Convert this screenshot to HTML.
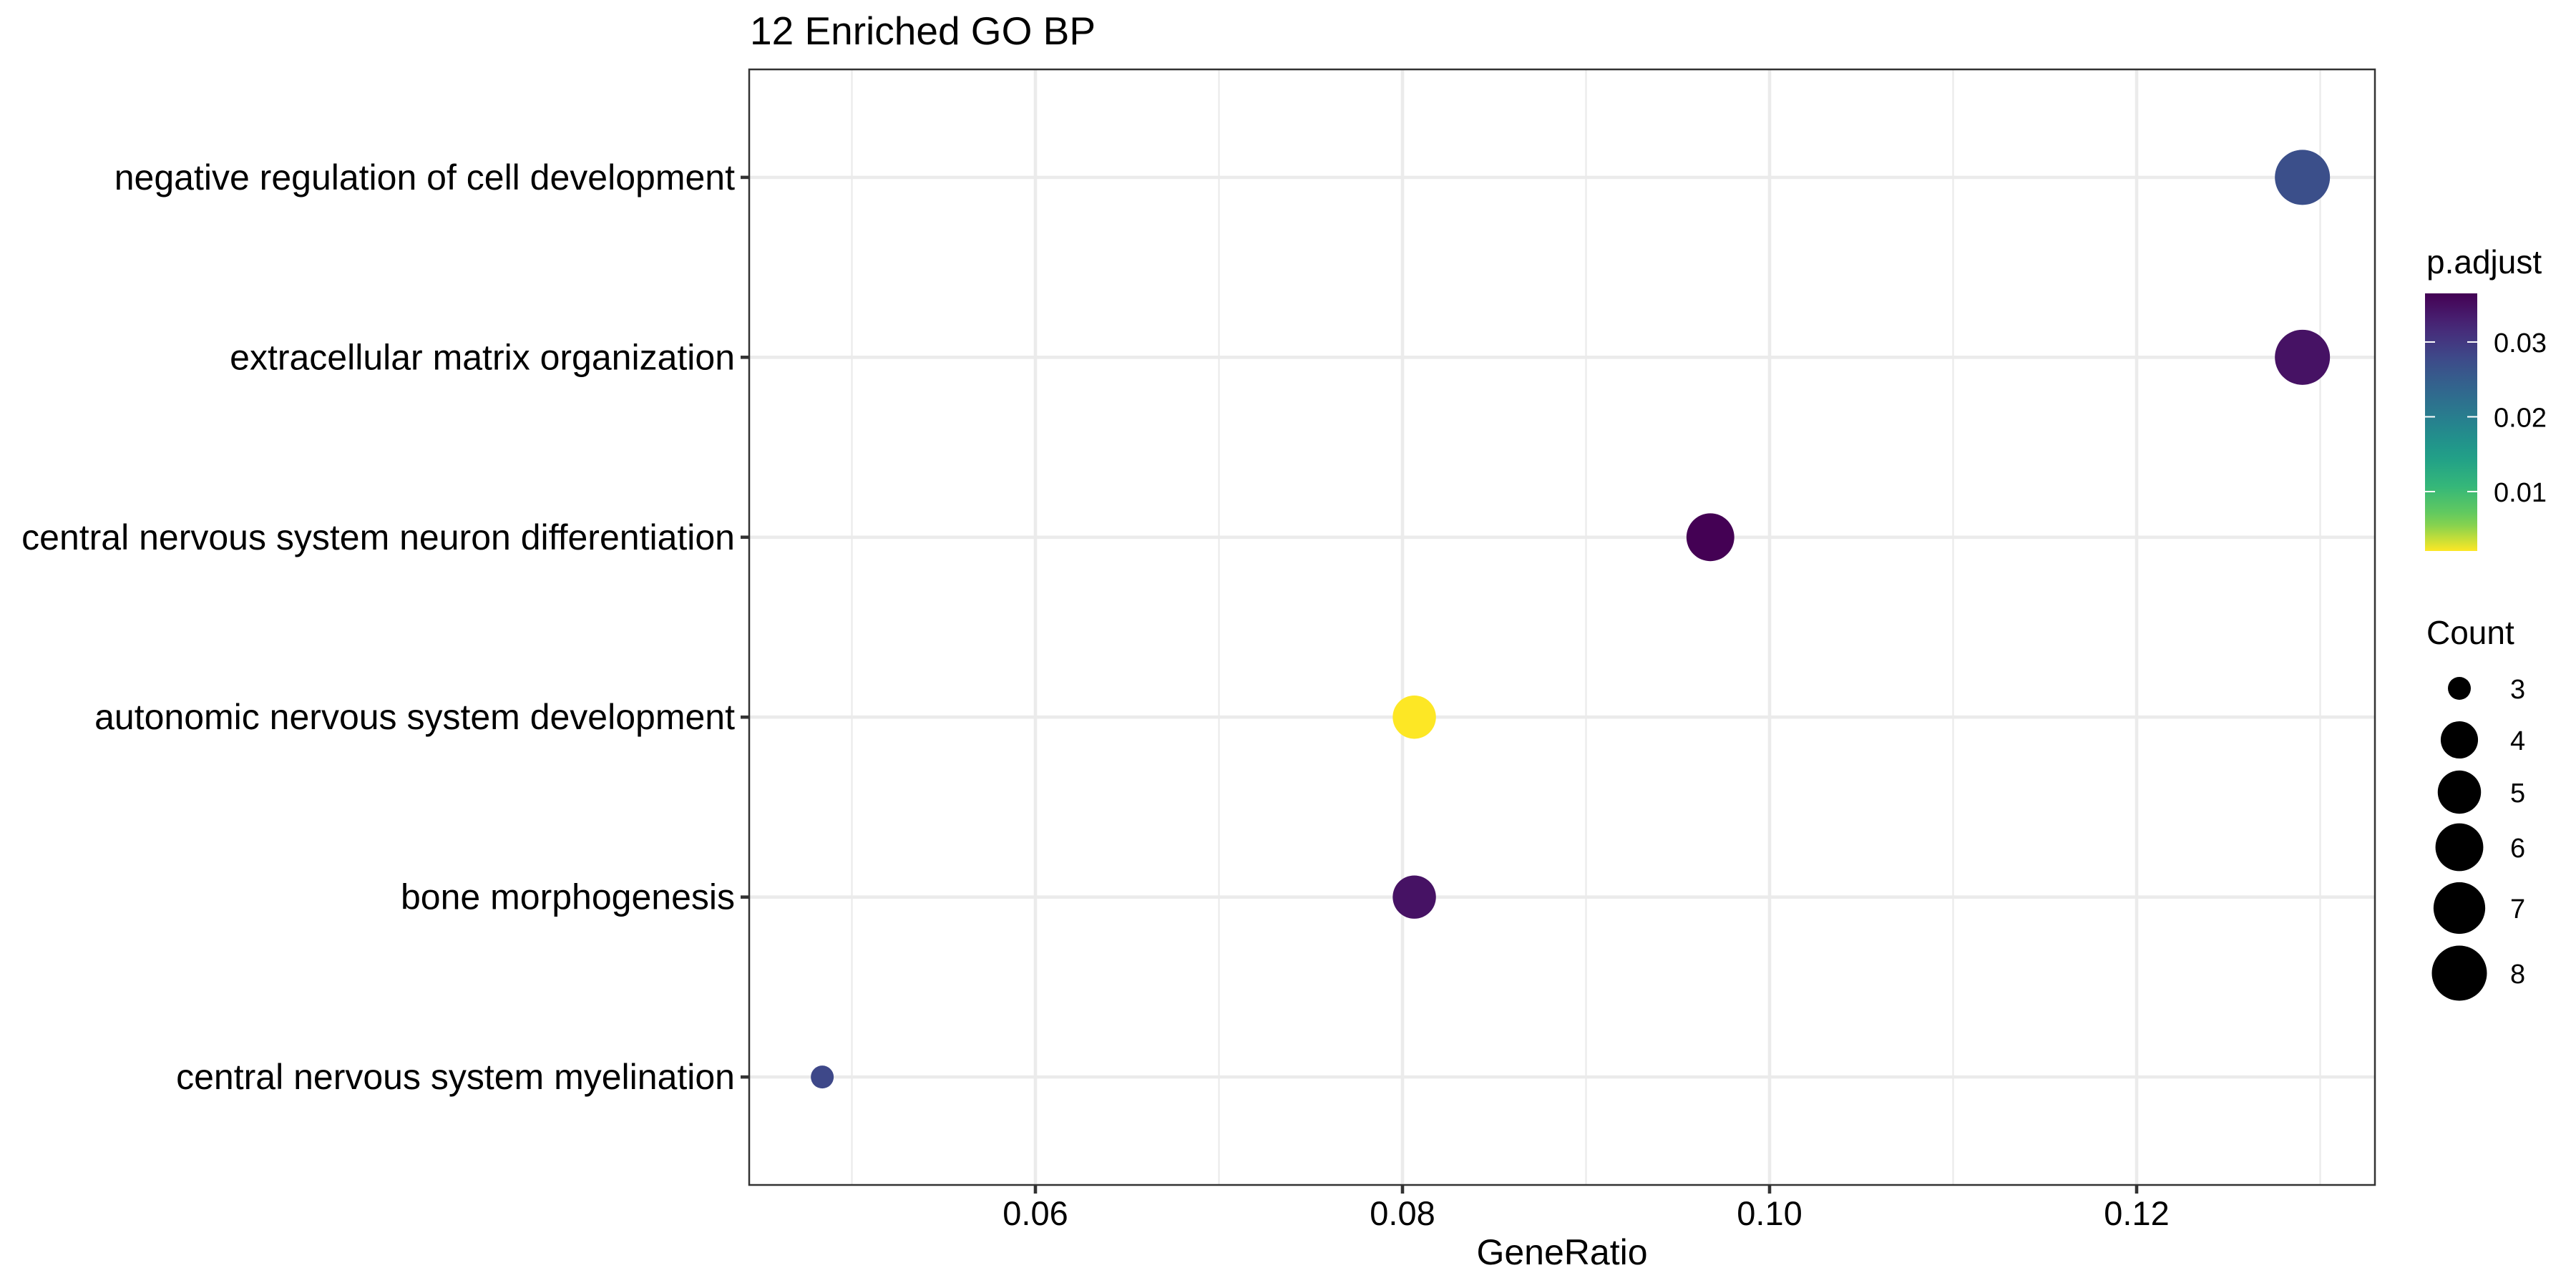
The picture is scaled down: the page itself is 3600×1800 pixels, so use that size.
<!DOCTYPE html>
<html><head><meta charset="utf-8"><style>
html,body{margin:0;padding:0;background:#fff;}
svg{display:block;font-family:"Liberation Sans",sans-serif;}
</style></head><body>
<svg id="chart" width="3600" height="1800" viewBox="0 0 3600 1800" xmlns="http://www.w3.org/2000/svg">
<rect x="0" y="0" width="3600" height="1800" fill="#fff"/>
<text x="1048" y="62" font-size="55" fill="#000">12 Enriched GO BP</text>
<g id="grid"></g><g id="points"></g><g id="axes"></g><g id="legend"></g>
</svg>
<script>
const categories = ["negative regulation of cell development","extracellular matrix organization","central nervous system neuron differentiation","autonomic nervous system development","bone morphogenesis","central nervous system myelination"];
const geneRatio = [8/62, 8/62, 6/62, 5/62, 5/62, 3/62];
const counts = [8, 8, 6, 5, 5, 3];
const pAdjust = [0.027, 0.0345, 0.0365, 0.00206, 0.0345, 0.028];
const xTicks = [0.06, 0.08, 0.10, 0.12];
const xTickLabels = ["0.06","0.08","0.10","0.12"];
const xMinor = [0.05, 0.07, 0.09, 0.11, 0.13];
const colorTicks = [0.01, 0.02, 0.03];
const colorTickLabels = ["0.01","0.02","0.03"];
const sizeLevels = [3,4,5,6,7,8];

const NS="http://www.w3.org/2000/svg";
const L=1047,R=3319,T=97,B=1656;
const pMin=0.00206,pMax=0.0365;
function sx(v){return 1447+(v-0.06)*25650;}
function sy(i){const step=(B-T)/(categories.length-1+1.2);return T+0.6*step+i*step;}
function rSize(c){return 16+ (38.5-16)*Math.sqrt((c-3)/(8-3));}
const vir=[[0,"#440154"],[0.13,"#482878"],[0.25,"#3e4989"],[0.38,"#31688e"],[0.5,"#26828e"],[0.63,"#1f9e89"],[0.75,"#35b779"],[0.88,"#6ece58"],[1,"#fde725"]];
function hex2(h){return [1,3,5].map(i=>parseInt(h.substr(i,2),16));}
function viridis(t){for(let i=1;i<vir.length;i++){if(t<=vir[i][0]){const a=vir[i-1],b=vir[i];const f=(t-a[0])/(b[0]-a[0]);const ca=hex2(a[1]),cb=hex2(b[1]);return "rgb("+ca.map((c,k)=>Math.round(c+(cb[k]-c)*f)).join(",")+")";}}return vir[vir.length-1][1];}
function pColor(p){return viridis((pMax-p)/(pMax-pMin));}
function mk(tag,attrs,parent){const e=document.createElementNS(NS,tag);for(const k in attrs)e.setAttribute(k,attrs[k]);parent.appendChild(e);return e;}

const grid=document.getElementById('grid');
mk('rect',{x:L,y:T,width:R-L,height:B-T,fill:'#fff'},grid);
xMinor.forEach(v=>{const x=sx(v);if(x>L&&x<R){const l=mk('line',{x1:x,x2:x,y1:T,y2:B,stroke:'#ebebeb','stroke-width':2.3},grid);

}});
xTicks.forEach(v=>{const x=sx(v);const l=mk('line',{x1:x,x2:x,y1:T,y2:B,stroke:'#ebebeb','stroke-width':4.6},grid);

});
categories.forEach((c,i)=>{const y=sy(i);const l=mk('line',{x1:L,x2:R,y1:y,y2:y,stroke:'#ebebeb','stroke-width':4.6},grid);

});

const pts=document.getElementById('points');
categories.forEach((c,i)=>{const p=mk('circle',{cx:sx(geneRatio[i]),cy:sy(i),r:rSize(counts[i]),fill:pColor(pAdjust[i])},pts);

});

const ax=document.getElementById('axes');
const border=mk('rect',{x:L,y:T,width:R-L,height:B-T,fill:'none',stroke:'#333','stroke-width':2.5},ax);


categories.forEach((c,i)=>{const y=sy(i);mk('line',{x1:L-12,x2:L,y1:y,y2:y,stroke:'#333','stroke-width':4.6},ax);
const t=mk('text',{x:L-20,y:y+17,'text-anchor':'end','font-size':50,fill:'#000'},ax);t.textContent=c;

});
xTicks.forEach((v,i)=>{const x=sx(v);mk('line',{x1:x,x2:x,y1:B,y2:B+12,stroke:'#333','stroke-width':4.6},ax);
const t=mk('text',{x:x,y:1712,'text-anchor':'middle','font-size':47,fill:'#000'},ax);t.textContent=xTickLabels[i];

});
const xt=mk('text',{x:(L+R)/2,y:1767,'text-anchor':'middle','font-size':50,fill:'#000'},ax);xt.textContent="GeneRatio";



const lg=document.getElementById('legend');
const lt=mk('text',{x:3391,y:382,'font-size':46,fill:'#000'},lg);lt.textContent="p.adjust";


const defs=mk('defs',{},lg);const gr=mk('linearGradient',{id:'cb',x1:0,y1:1,x2:0,y2:0},defs);
for(let k=0;k<=20;k++){mk('stop',{offset:(k/20),'stop-color':viridis(1-k/20)},gr);}
const cbT=410,cbB=770,cbL=3389,cbR=3462;
const cb=mk('rect',{x:cbL,y:cbT,width:cbR-cbL,height:cbB-cbT,fill:'url(#cb)'},lg);


function cy(p){return cbB-(p-pMin)/(pMax-pMin)*(cbB-cbT);}
colorTicks.forEach((v,i)=>{const y=cy(v);mk('line',{x1:cbL,x2:cbL+14,y1:y,y2:y,stroke:'#fff','stroke-width':2},lg);mk('line',{x1:cbR-14,x2:cbR,y1:y,y2:y,stroke:'#fff','stroke-width':2},lg);
const t=mk('text',{x:3485,y:y+14,'font-size':38,fill:'#000'},lg);t.textContent=colorTickLabels[i];

});
const ct=mk('text',{x:3391,y:900,'font-size':46,fill:'#000'},lg);ct.textContent="Count";


const sizeY=[962,1034,1107,1184,1269,1360];
sizeLevels.forEach((c,i)=>{const k=mk('circle',{cx:3437,cy:sizeY[i],r:rSize(c),fill:'#000'},lg);


const t=mk('text',{x:3508,y:sizeY[i]+14,'font-size':38,fill:'#000'},lg);t.textContent=String(c);

});
</script>
</body></html>
